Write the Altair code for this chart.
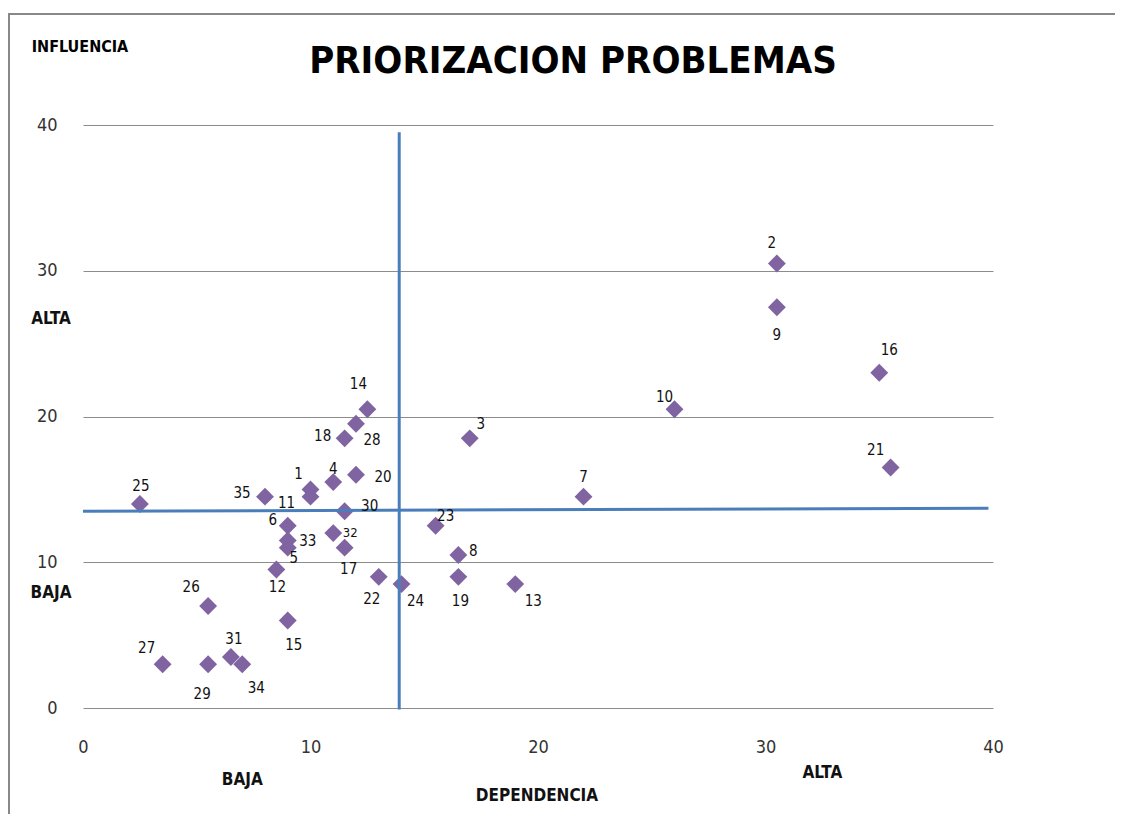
import altair as alt
import pandas as pd

ids = list(range(1, 36))
dependencia = [10, 30.5, 17, 11, 9, 9, 22, 16.5, 30.5, 26, 10, 8.5, 19, 12.5, 9, 35, 11.5, 11.5,
               16.5, 12, 35.5, 13, 15.5, 14, 2.5, 5.5, 3.5, 12, 5.5, 11.5, 6.5, 11, 9, 7, 8]
influencia = [15, 30.5, 18.5, 15.5, 11, 12.5, 14.5, 10.5, 27.5, 20.5, 14.5, 9.5, 8.5, 20.5, 6, 23, 11, 18.5,
              9, 16, 16.5, 9, 12.5, 8.5, 14, 7, 3, 19.5, 3, 13.5, 3.5, 12, 11.5, 3, 14.5]

# label offsets (pixels) – styling only
label_offsets = {
    1: (-12, -15), 2: (-5, -20), 3: (11, -14), 4: (0, -13), 5: (6, 10), 6: (-15, -6),
    7: (0, -20), 8: (15, -4), 9: (0, 28), 10: (-10, -12), 11: (-24, 6), 12: (1, 17),
    13: (18, 17), 14: (-9, -25), 15: (6, 24), 16: (10, -23), 17: (4, 21), 18: (-22, -2),
    19: (2, 24), 20: (27, 2), 21: (-15, -18), 22: (-7, 22), 23: (10, -10), 24: (14, 17),
    25: (1, -18), 26: (-17, -19), 27: (-16, -16), 28: (16, 16), 29: (-6, 30), 30: (25, -5),
    31: (3, -18), 32: (17, 0), 33: (20, 1), 34: (14, 24), 35: (-23, -4),
}

x_quadrant_labels = ["BAJA", "ALTA"]
x_quadrant_pos = [7, 32.5]
y_quadrant_labels = ["ALTA", "BAJA"]
y_quadrant_pos = [26.7, 7.9]

v_line_x = [13.9, 13.9]
v_line_y = [-0.1, 39.5]
h_line_x = [0, 39.8]
h_line_y = [13.5, 13.7]

FONT = "Liberation Sans Narrow, DejaVu Sans Condensed, sans-serif"
BLUE = "#4A7EBB"
PURPLE = "#8064A2"

df = pd.DataFrame({"id": ids, "dep": dependencia, "inf": influencia})

xs = alt.Scale(domain=[0, 40], nice=False, zero=False)
ys = alt.Scale(domain=[0, 40], nice=False, zero=False)

base = alt.Chart(df)

points = base.mark_point(shape="diamond", filled=True, size=320, color=PURPLE, opacity=1).encode(
    x=alt.X("dep:Q", scale=xs, axis=alt.Axis(values=[0, 10, 20, 30, 40], grid=False, ticks=False,
                                             domain=False, labelPadding=30, labelFontSize=18,
                                             labelFlush=False,
                                             labelFont=FONT, labelColor="#333333", title=None)),
    y=alt.Y("inf:Q", scale=ys, axis=alt.Axis(values=[0, 10, 20, 30, 40], grid=True, gridColor="#8c8c8c",
                                             gridWidth=1, ticks=False, domain=False, labelPadding=26,
                                             labelFlush=False,
                                             labelFontSize=18, labelFont=FONT, labelColor="#333333",
                                             title=None)),
)

label_layers = []
for i in ids:
    dx, dy = label_offsets[i]
    label_layers.append(
        base.transform_filter(alt.datum.id == i).mark_text(
            dx=dx, dy=dy, font=FONT, fontSize=13 if i == 32 else 15, color="#111111"
        ).encode(x=alt.X("dep:Q", scale=xs), y=alt.Y("inf:Q", scale=ys), text="id:N")
    )

vline = alt.Chart(pd.DataFrame({"x": v_line_x, "y": v_line_y})).mark_line(
    color=BLUE, strokeWidth=3, clip=False).encode(x=alt.X("x:Q", scale=xs), y=alt.Y("y:Q", scale=ys))
hline = alt.Chart(pd.DataFrame({"x": h_line_x, "y": h_line_y})).mark_line(
    color=BLUE, strokeWidth=3).encode(x=alt.X("x:Q", scale=xs), y=alt.Y("y:Q", scale=ys))

xq = alt.Chart(pd.DataFrame({"t": x_quadrant_labels, "x": x_quadrant_pos}))
xq_text = alt.layer(*[
    xq.transform_filter(alt.datum.t == t).mark_text(font=FONT, fontSize=17, fontWeight="bold",
                                                    color="#111111").encode(
        x=alt.X("x:Q", scale=xs), y=alt.value(583 + d), text="t:N")
    for t, d in zip(x_quadrant_labels, [72, 65])
])

yq_text = alt.Chart(pd.DataFrame({"t": y_quadrant_labels, "y": y_quadrant_pos})).mark_text(
    font=FONT, fontSize=17, fontWeight="bold", color="#111111", align="center").encode(
    y=alt.Y("y:Q", scale=ys), x=alt.value(-32), text="t:N")

annot = alt.Chart(pd.DataFrame({"t": ["PRIORIZACION PROBLEMAS", "INFLUENCIA", "DEPENDENCIA"]}))
title_t = annot.transform_filter(alt.datum.t == "PRIORIZACION PROBLEMAS").mark_text(
    font=FONT, fontSize=38, fontWeight="bold", color="#000000").encode(
    x=alt.value(490), y=alt.value(-63), text="t:N")
infl_t = annot.transform_filter(alt.datum.t == "INFLUENCIA").mark_text(
    font=FONT, fontSize=16, fontWeight="bold", color="#000000").encode(
    x=alt.value(-3), y=alt.value(-78), text="t:N")
dep_t = annot.transform_filter(alt.datum.t == "DEPENDENCIA").mark_text(
    font=FONT, fontSize=17, fontWeight="bold", color="#111111").encode(
    x=alt.value(454), y=alt.value(671), text="t:N")

border = alt.Chart(pd.DataFrame({"a": [0]})).mark_rect(
    fill=None, stroke="#888888", strokeWidth=2).encode(
    x=alt.value(-74), x2=alt.value(1200), y=alt.value(-111), y2=alt.value(900))

chart = alt.layer(
    border, points, vline, hline, *label_layers, xq_text, yq_text, title_t, infl_t, dep_t
).properties(
    width=910, height=583,
    autosize=alt.AutoSizeParams(type="none"),
    padding={"left": 75, "top": 117, "right": 122, "bottom": 106},
).configure_view(stroke=None)

chart.save("out.html", embed_options={"renderer": "svg", "actions": False})
